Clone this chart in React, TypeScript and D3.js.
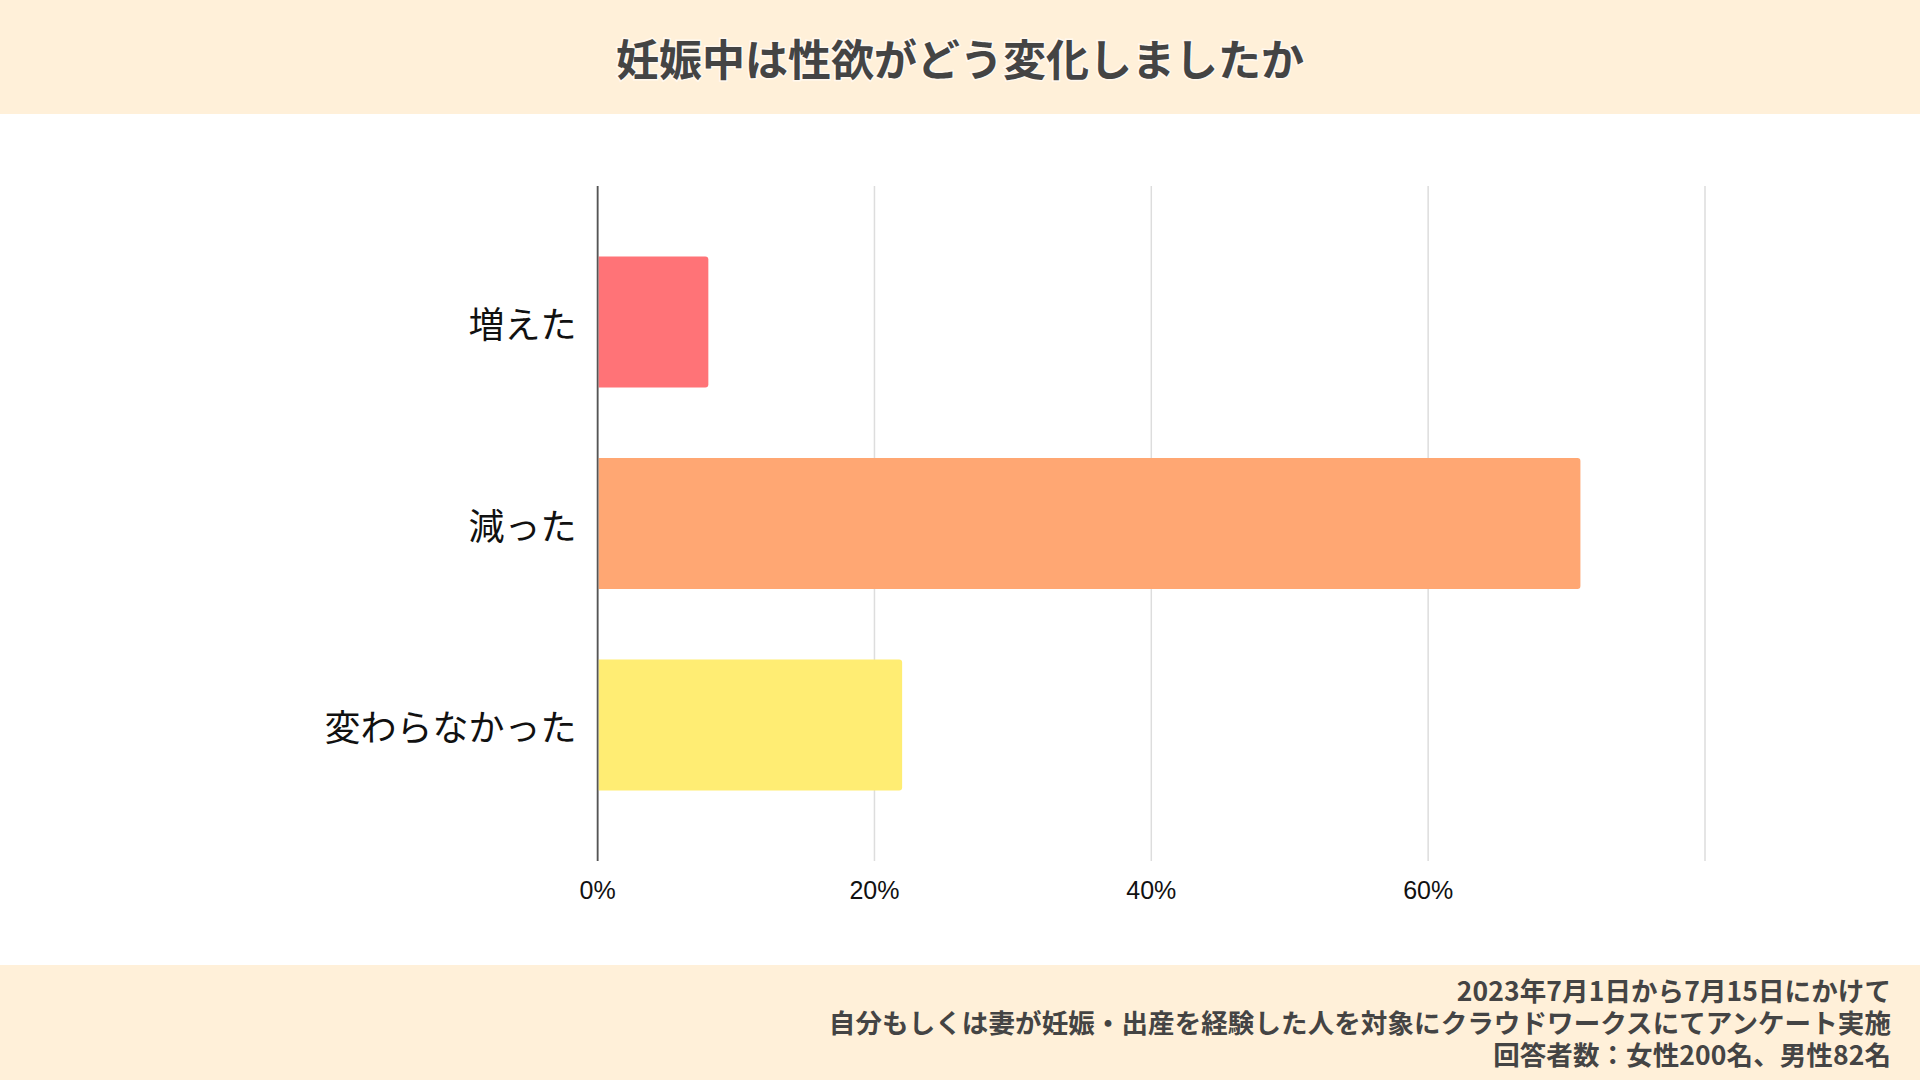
import React, { useEffect } from 'react';
import * as d3 from 'd3';

const categories = ['増えた', '減った', '変わらなかった'];
const values = [8, 71, 22];
const barColors = ['#ff7377', '#ffa773', '#ffed73'];
const gridTicks = [0, 20, 40, 60, 80];
const tickLabels = ['0%', '20%', '40%', '60%', ''];
const title = '妊娠中は性欲がどう変化しましたか';
const footnotes = [
  '2023年7月1日から7月15日にかけて',
  '自分もしくは妻が妊娠・出産を経験した人を対象にクラウドワークスにてアンケート実施',
  '回答者数：女性200名、男性82名',
];

const W = 1920;
const H = 1080;
const bandBg = '#fff0d9';
const jpFont = '"Noto Sans CJK JP", "Noto Sans", sans-serif';

export default function App() {
  useEffect(() => {
    document.body.style.margin = '0';
  }, []);

  // plot area
  const margin = { top: 186, right: 215, bottom: 219, left: 597.6 };
  const x = d3.scaleLinear()
    .domain([0, 80])
    .range([margin.left, W - margin.right]);
  const y = d3.scaleBand()
    .domain(categories)
    .range([margin.top, H - margin.bottom])
    .padding(0.35);

  const r = 3;
  const barPath = (x0: number, x1: number, y0: number, h: number) => {
    const p = d3.path();
    p.moveTo(x0, y0);
    p.lineTo(x1 - r, y0);
    p.quadraticCurveTo(x1, y0, x1, y0 + r);
    p.lineTo(x1, y0 + h - r);
    p.quadraticCurveTo(x1, y0 + h, x1 - r, y0 + h);
    p.lineTo(x0, y0 + h);
    p.closePath();
    return p.toString();
  };

  return (
    <svg width={W} height={H} style={{ display: 'block' }}>
      <rect x={0} y={0} width={W} height={H} fill="#ffffff" />
      {/* header */}
      <rect x={0} y={0} width={W} height={114} fill={bandBg} />
      <text
        x={W / 2}
        y={57}
        textAnchor="middle"
        dominantBaseline="central"
        fontFamily={jpFont}
        fontWeight={700}
        fontSize={43}
        fill="#444444"
        stroke="#ffffff"
        strokeWidth={3}
        strokeOpacity={0.6}
        paintOrder="stroke"
      >
        {title}
      </text>

      {/* gridlines */}
      {gridTicks.map(t => (
        <line
          key={'g' + t}
          x1={x(t)}
          x2={x(t)}
          y1={margin.top}
          y2={H - margin.bottom}
          stroke={t === 0 ? '#555555' : '#dddddd'}
          strokeWidth={1.5}
        />
      ))}

      {/* bars */}
      {categories.map((c, i) => (
        <path
          key={c}
          d={barPath(x(0) + 1, x(values[i]), y(c) as number, y.bandwidth())}
          fill={barColors[i]}
        />
      ))}
      {/* zero axis drawn on top */}
      <line x1={x(0)} x2={x(0)} y1={margin.top} y2={H - margin.bottom} stroke="#555555" strokeWidth={1.5} />

      {/* category labels */}
      {categories.map(c => (
        <text
          key={'l' + c}
          x={x(0) - 21}
          y={(y(c) as number) + y.bandwidth() / 2}
          textAnchor="end"
          dominantBaseline="central"
          fontFamily={jpFont}
          fontSize={36}
          fill="#111111"
        >
          {c}
        </text>
      ))}

      {/* tick labels */}
      {gridTicks.map((t, i) => (
        <text
          key={'t' + t}
          x={x(t)}
          y={890}
          textAnchor="middle"
          dominantBaseline="central"
          fontFamily='"Liberation Sans", Arial, sans-serif'
          fontSize={25}
          fill="#111111"
        >
          {tickLabels[i]}
        </text>
      ))}

      {/* footer */}
      <rect x={0} y={965} width={W} height={H - 965} fill={bandBg} />
      {footnotes.map((f, i) => (
        <text
          key={'f' + i}
          x={1891}
          y={989 + i * 32}
          textAnchor="end"
          dominantBaseline="central"
          fontFamily={jpFont}
          fontWeight={700}
          fontSize={26.5}
          letterSpacing={0.1}
          fill="#444444"
        >
          {f}
        </text>
      ))}
    </svg>
  );
}
